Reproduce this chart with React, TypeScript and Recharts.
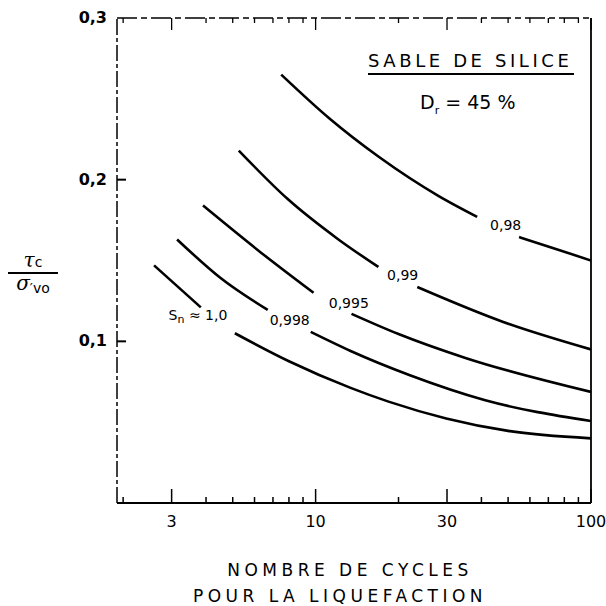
import React from "react";
import { LineChart, Line, XAxis, YAxis, ReferenceLine, ReferenceDot } from "recharts";

const xTicks = [2, 3, 4, 5, 6, 7, 8, 9, 10, 20, 30, 40, 50, 60, 70, 80, 90, 100];
const xMajor = [3, 10, 30, 100];
const xMajorLabels = ["3", "10", "30", "100"];
const yTicks = [0.1, 0.2, 0.3];
const yTickLabels = ["0,1", "0,2", "0,3"];

// Sn = 0,98
const n98a = [7.5, 11.2, 17, 27.9, 38.6];
const r98a = [0.265, 0.238, 0.214, 0.19, 0.177];
const n98b = [54.8, 75, 100];
const r98b = [0.1645, 0.157, 0.15];
// Sn = 0,99
const n99a = [5.26, 7.92, 12, 16.9];
const r99a = [0.218, 0.188, 0.1635, 0.146];
const n99b = [23.4, 48, 100];
const r99b = [0.1336, 0.112, 0.095];
// Sn = 0,995
const n995a = [3.9, 6.32, 9.83];
const r995a = [0.184, 0.155, 0.13];
const n995b = [13.5, 20, 35, 100];
const r995b = [0.117, 0.1045, 0.0897, 0.0687];
// Sn = 0,998
const n998a = [3.14, 4.53, 6.7];
const r998a = [0.163, 0.139, 0.1194];
const n998b = [9.6, 13.4, 22, 41, 100];
const r998b = [0.1058, 0.094, 0.079, 0.0637, 0.0507];
// Sn = 1,0
const n10a = [2.59, 3.83];
const r10a = [0.147, 0.121];
const n10b = [5.09, 8, 13.4, 18.4, 29.8, 50, 100];
const r10b = [0.105, 0.0877, 0.0712, 0.0627, 0.0523, 0.0446, 0.04];

const curveLabels = ["0,98", "0,99", "0,995", "0,998"];
const labelN = [49, 20.7, 13.2, 8.05];
const labelR = [0.172, 0.141, 0.124, 0.113];

const seg = (n: number[], r: number[]) => n.map((x, i) => ({ n: x, v: r[i] }));

const segments = [
  seg(n98a, r98a),
  seg(n98b, r98b),
  seg(n99a, r99a),
  seg(n99b, r99b),
  seg(n995a, r995a),
  seg(n995b, r995b),
  seg(n998a, r998a),
  seg(n998b, r998b),
  seg(n10a, r10a),
  seg(n10b, r10b),
];

const FONT = "'DejaVu Sans', sans-serif";

const BottomTick = (props: any) => {
  const { x, y, payload } = props;
  const idx = xMajor.indexOf(payload.value);
  const major = idx >= 0;
  return (
    <g>
      <line x1={x} x2={x} y1={y} y2={y - (major ? 14 : 6)} stroke="#000" strokeWidth={1.5} />
      {major && (
        <text x={x} y={y + 24} textAnchor="middle" fontFamily={FONT} fontSize={16} fill="#000">
          {xMajorLabels[idx]}
        </text>
      )}
    </g>
  );
};

const TopTick = (props: any) => {
  const { x, y, payload } = props;
  const major = xMajor.includes(payload.value);
  return <line x1={x} x2={x} y1={y} y2={y + (major ? 12 : 5)} stroke="#000" strokeWidth={1.3} />;
};

const LeftTick = (props: any) => {
  const { x, y, payload } = props;
  const idx = yTicks.indexOf(payload.value);
  return (
    <g>
      {payload.value < 0.3 && <line x1={x} x2={x + 9} y1={y} y2={y} stroke="#000" strokeWidth={2} />}
      <text x={x - 10} y={y + 5} textAnchor="end" fontFamily={FONT} fontSize={16} fontWeight="bold" fill="#000">
        {yTickLabels[idx]}
      </text>
    </g>
  );
};

const RightTick = (props: any) => {
  const { x, y, payload } = props;
  if (payload.value >= 0.3) return <g />;
  return <line x1={x} x2={x - 9} y1={y} y2={y} stroke="#000" strokeWidth={2} />;
};

const SnLabel = (props: any) => {
  const { viewBox } = props;
  const cx = viewBox.x + viewBox.width / 2;
  const cy = viewBox.y + viewBox.height / 2;
  return (
    <text x={cx} y={cy + 5} textAnchor="middle" fontFamily={FONT} fontSize={14} fill="#000">
      S<tspan fontSize={11} dy={3}>n</tspan>
      <tspan dy={-3}> ≈ 1,0</tspan>
    </text>
  );
};

export default function App() {
  return (
    <div style={{ position: "absolute", left: 0, top: 0, width: 606, height: 606, background: "#fff" }}>
      <LineChart width={606} height={606} margin={{ top: 0, right: 0, bottom: 0, left: 0 }}>
        <XAxis
          dataKey="n"
          type="number"
          scale="log"
          domain={[1.9, 100]}
          allowDataOverflow
          ticks={xTicks}
          interval={0}
          height={103}
          axisLine={false}
          tickLine={false}
          tickSize={0}
          tickMargin={0}
          tick={<BottomTick />}
        />
        <XAxis
          xAxisId="top"
          orientation="top"
          dataKey="n"
          type="number"
          scale="log"
          domain={[1.9, 100]}
          allowDataOverflow
          ticks={xTicks}
          interval={0}
          height={18}
          axisLine={false}
          tickLine={false}
          tickSize={0}
          tickMargin={0}
          tick={<TopTick />}
        />
        <YAxis
          type="number"
          domain={[0, 0.3]}
          ticks={yTicks}
          interval={0}
          width={117}
          axisLine={false}
          tickLine={false}
          tickSize={0}
          tickMargin={0}
          tick={<LeftTick />}
        />
        <YAxis
          yAxisId="right"
          orientation="right"
          type="number"
          domain={[0, 0.3]}
          ticks={yTicks}
          interval={0}
          width={15}
          axisLine={false}
          tickLine={false}
          tickSize={0}
          tickMargin={0}
          tick={<RightTick />}
        />
        <ReferenceLine x={1.9} stroke="#000" strokeWidth={1.5} strokeDasharray="16 3 4 3" />
        <ReferenceLine x={100} stroke="#000" strokeWidth={1.8} />
        <ReferenceLine y={0} stroke="#000" strokeWidth={1.8} />
        <ReferenceLine y={0.3} stroke="#000" strokeWidth={1.5} strokeDasharray="20 4 6 4" />
        {segments.map((d, i) => (
          <Line
            key={i}
            data={d}
            dataKey="v"
            type="monotone"
            dot={false}
            stroke="#000"
            strokeWidth={2.6}
            isAnimationActive={false}
          />
        ))}
        {curveLabels.map((t, i) => (
          <ReferenceDot
            key={t}
            x={labelN[i]}
            y={labelR[i]}
            r={1}
            fill="none"
            stroke="none"
            label={{ value: t, position: "center", fontSize: 14, fill: "#000", fontFamily: FONT }}
          />
        ))}
        <ReferenceDot x={3.74} y={0.1163} r={1} fill="none" stroke="none" label={<SnLabel />} />
      </LineChart>

      <div
        style={{
          position: "absolute",
          left: 368,
          top: 50,
          width: 206,
          fontFamily: FONT,
          fontSize: 18,
          letterSpacing: 3.6,
          color: "#000",
          borderBottom: "2px solid #000",
          paddingBottom: 2,
          whiteSpace: "nowrap",
          lineHeight: "21px",
        }}
      >
        SABLE DE SILICE
      </div>
      <div
        style={{
          position: "absolute",
          left: 420,
          top: 91,
          fontFamily: FONT,
          fontSize: 19,
          color: "#000",
          whiteSpace: "nowrap",
          lineHeight: "22px",
        }}
      >
        D<sub style={{ fontSize: 11 }}>r</sub> = 45 %
      </div>

      <div
        style={{
          position: "absolute",
          left: 8,
          top: 252,
          width: 50,
          textAlign: "center",
          fontFamily: "'DejaVu Serif', serif",
          color: "#000",
        }}
      >
        <div style={{ fontSize: 20, fontStyle: "italic", lineHeight: "17px", borderBottom: "2px solid #000", paddingBottom: 1 }}>
          τ<span style={{ fontSize: 14, fontStyle: "normal", fontFamily: FONT }}>c</span>
        </div>
        <div style={{ fontSize: 20, fontStyle: "italic", lineHeight: "19px" }}>
          σ<span style={{ fontSize: 14, fontStyle: "normal", fontFamily: FONT, position: "relative", top: 3 }}>′vo</span>
        </div>
      </div>

      <div
        style={{
          position: "absolute",
          left: 100,
          top: 557,
          width: 500,
          textAlign: "center",
          fontFamily: FONT,
          fontSize: 17,
          letterSpacing: 4.5,
          color: "#000",
          lineHeight: "26px",
        }}
      >
        <div>NOMBRE DE CYCLES</div>
        <div style={{ marginLeft: -20 }}>POUR LA LIQUEFACTION</div>
      </div>
    </div>
  );
}
